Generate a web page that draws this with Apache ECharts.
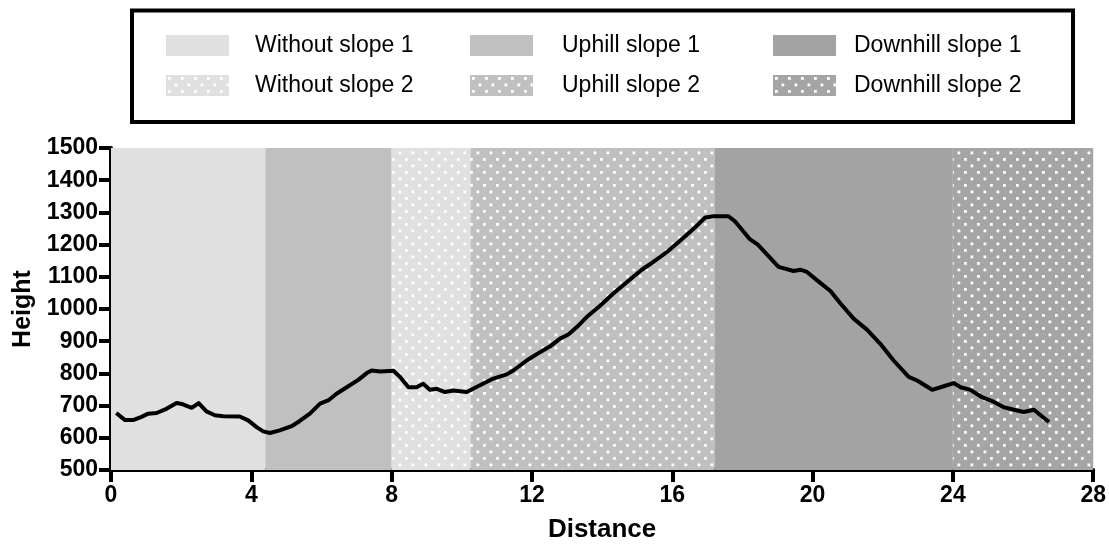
<!DOCTYPE html>
<html>
<head>
<meta charset="utf-8">
<script src="https://cdn.jsdelivr.net/npm/echarts@6/dist/echarts.min.js"></script>
<style>
html,body{margin:0;padding:0;background:#fff;}
#chart{width:1109px;height:550px;}
</style>
</head>
<body>
<div id="chart"></div>
<script>
// ---- Data ----
const distance = [0.15,0.4,0.63,0.87,1.06,1.3,1.58,1.87,2.05,2.3,2.5,2.72,2.96,3.2,3.67,3.91,4.15,4.34,4.53,4.81,5.15,5.39,5.67,5.96,6.19,6.43,6.72,7.05,7.29,7.43,7.67,8.05,8.24,8.48,8.71,8.9,9.09,9.29,9.52,9.76,10.14,10.52,10.9,11.28,11.47,11.85,12.23,12.52,12.8,13.04,13.28,13.56,13.95,14.32,14.71,15.13,15.46,15.85,16.23,16.61,16.94,17.18,17.6,17.78,18.2,18.44,19.03,19.46,19.65,19.84,20.13,20.51,20.79,21.17,21.55,21.93,22.31,22.74,22.98,23.41,23.74,24.02,24.22,24.5,24.83,25.12,25.45,25.74,26.02,26.31,26.5,26.74];
const height = [677,655,655,665,675,677,690,708,704,693,708,682,670,667,666,654,633,620,615,623,636,653,675,706,716,737,757,780,801,809,806,808,789,757,757,768,749,752,742,747,742,763,784,797,809,840,866,884,908,921,944,975,1011,1048,1084,1122,1146,1177,1213,1249,1284,1288,1288,1273,1218,1200,1131,1118,1122,1115,1089,1056,1018,970,936,892,840,789,778,749,760,770,757,749,726,714,695,687,680,687,670,649];

const bandNames  = ['Without slope 1','Uphill slope 1','Downhill slope 1','Without slope 2','Uphill slope 2','Downhill slope 2'];
const bandStarts = [0,    4.4, 17.2, 8.0,  10.25, 24.0];
const bandEnds   = [4.4,  8.0, 24.0, 10.25, 17.2, 28];

const xTicks = [0,4,8,12,16,20,24,28];
const yTicks = [500,600,700,800,900,1000,1100,1200,1300,1400,1500];

// ---- Styles ----
const baseColors = ['#e0e0e0','#c0c0c0','#a3a3a3','#e0e0e0','#c0c0c0','#a5a5a5'];
const dotted     = [false,false,false,true,true,true];
const FONT = '"Liberation Sans", Arial, Helvetica, sans-serif';

function makeFill(base, dots){
  if(!dots) return base;
  const c = document.createElement('canvas');
  c.width = 13; c.height = 13;
  const ctx = c.getContext('2d');
  ctx.fillStyle = base; ctx.fillRect(0,0,13,13);
  ctx.fillStyle = '#ffffff';
  ctx.fillRect(2,2,2.8,2.8);
  ctx.fillRect(8.5,8.5,2.8,2.8);
  return {image: c, repeat: 'repeat'};
}
const fills = baseColors.map((b,i)=>makeFill(b, dotted[i]));

const yMin = yTicks[0], yMax = yTicks[yTicks.length-1];
const xMin = xTicks[0], xMax = xTicks[xTicks.length-1];

const chart = echarts.init(document.getElementById('chart'), null, {renderer:'canvas'});

const bandSeries = bandNames.map((name,i)=>({
  name: name,
  type: 'custom',
  coordinateSystem: 'cartesian2d',
  itemStyle: {color: fills[i]},
  encode: {x:[0,1]},
  data: [[bandStarts[i], bandEnds[i]]],
  silent: true,
  z: 1,
  renderItem: function(params, api){
    const p0 = api.coord([api.value(0), yMax]);
    const p1 = api.coord([api.value(1), yMin]);
    return {type:'rect', shape:{x:p0[0], y:p0[1], width:p1[0]-p0[0], height:p1[1]-p0[1]},
            style:{fill: fills[params.seriesIndex]}};
  }
}));

// legend layout: [left, top, text padding]
const legendPos = [
  [166, 34, 21], [470, 34, 24], [773, 34, 13],
  [166, 74, 21], [470, 74, 24], [773, 74, 13]
];
const legends = bandNames.map((name,i)=>({
  data: [name],
  left: legendPos[i][0],
  top: legendPos[i][1],
  padding: 0,
  icon: 'rect',
  itemWidth: 63,
  itemHeight: 21,
  selectedMode: false,
  textStyle: {fontFamily: FONT, fontSize: 23, color:'#000', lineHeight: 21, padding:[0,0,0,legendPos[i][2]]}
}));

const option = {
  animation: false,
  backgroundColor: '#fff',
  legend: legends,
  graphic: [{
    type: 'rect',
    shape: {x:132, y:10.5, width:941, height:111.5},
    style: {fill:'none', stroke:'#000', lineWidth:4},
    z: 0
  }],
  grid: {left:111, right:14, top:148, bottom:80, containLabel:false},
  xAxis: {
    type:'value', min:xMin, max:xMax, interval:4,
    name:'Distance', nameLocation:'middle', nameGap:47,
    nameTextStyle:{fontFamily:FONT, fontSize:26, fontWeight:'bold', color:'#000'},
    axisLine:{show:true, onZero:false, lineStyle:{color:'#000', width:4}},
    axisTick:{show:true, length:12, lineStyle:{color:'#000', width:4}},
    axisLabel:{fontFamily:FONT, fontSize:23, fontWeight:'bold', color:'#000', margin:14,
               formatter: v => String(v)},
    splitLine:{show:false}
  },
  yAxis: {
    type:'value', min:yMin, max:yMax, interval:100,
    name:'Height', nameLocation:'middle', nameGap:73, nameRotate:90,
    nameTextStyle:{fontFamily:FONT, fontSize:25, fontWeight:'bold', color:'#000'},
    axisLine:{show:true, onZero:false, lineStyle:{color:'#000', width:4}},
    axisTick:{show:true, length:12, lineStyle:{color:'#000', width:4}},
    axisLabel:{fontFamily:FONT, fontSize:23, fontWeight:'bold', color:'#000', margin:13,
               formatter: v => String(v)},
    splitLine:{show:false}
  },
  series: bandSeries.concat([{
    name:'Profile',
    type:'line',
    data: distance.map((d,i)=>[d, height[i]]),
    showSymbol:false,
    symbol:'none',
    smooth:false,
    lineStyle:{color:'#000', width:4, join:'round'},
    itemStyle:{color:'#000'},
    z: 3,
    silent:true
  }])
};
chart.setOption(option);
</script>
</body>
</html>
